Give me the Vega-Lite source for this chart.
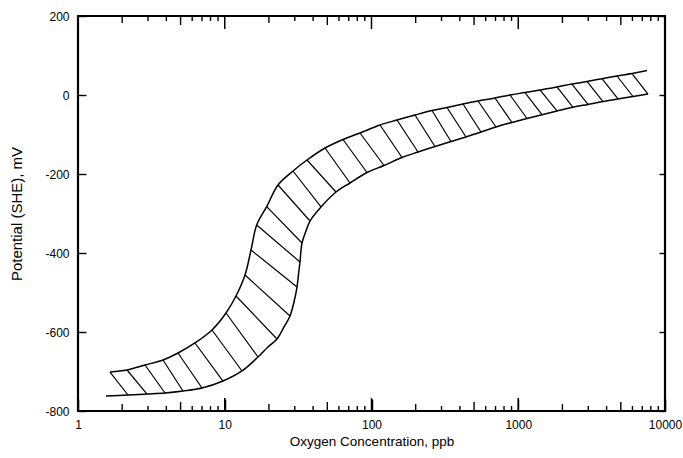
{
  "$schema": "https://vega.github.io/schema/vega-lite/v6.json",
  "autosize": {"type": "none"},
  "width": 587,
  "height": 395,
  "padding": {"left": 78, "top": 16, "right": 18, "bottom": 47},
  "background": "white",
  "config": {
    "view": {"stroke": "black", "strokeWidth": 2.2},
    "font": "Liberation Sans",
    "axis": {"domain": false, "grid": false, "tickColor": "black", "tickWidth": 1.4, "labelColor": "black", "titleColor": "black", "labelFont": "Liberation Sans", "titleFont": "Liberation Sans", "labelFontSize": 12, "titleFontSize": 13.5, "titleFontWeight": "normal"}
  },
  "datasets": {
    "xtick": [
      {"c": 1}, {"c": 2}, {"c": 3}, {"c": 4}, {"c": 5}, {"c": 6}, {"c": 7}, {"c": 8}, {"c": 9},
      {"c": 10}, {"c": 20}, {"c": 30}, {"c": 40}, {"c": 50}, {"c": 60}, {"c": 70}, {"c": 80}, {"c": 90},
      {"c": 100}, {"c": 200}, {"c": 300}, {"c": 400}, {"c": 500}, {"c": 600}, {"c": 700}, {"c": 800}, {"c": 900},
      {"c": 1000}, {"c": 2000}, {"c": 3000}, {"c": 4000}, {"c": 5000}, {"c": 6000}, {"c": 7000}, {"c": 8000}, {"c": 9000},
      {"c": 10000}
    ],
    "upper": [
      {"c": 1.652, "v": -701.3}, {"c": 2.158, "v": -696.2}, {"c": 2.861, "v": -683.5}, {"c": 3.795, "v": -670.9},
      {"c": 4.802, "v": -653.2}, {"c": 6.270, "v": -627.8}, {"c": 8.187, "v": -594.9}, {"c": 10.20, "v": -551.9},
      {"c": 11.93, "v": -508.9}, {"c": 13.74, "v": -455.7}, {"c": 15.10, "v": -392.4}, {"c": 16.51, "v": -329.1},
      {"c": 19.31, "v": -282.8}, {"c": 23.06, "v": -227.8}, {"c": 29.18, "v": -192.4}, {"c": 36.35, "v": -164.6},
      {"c": 48.22, "v": -134.2}, {"c": 63.94, "v": -112.7}, {"c": 83.49, "v": -96.2}, {"c": 114.3, "v": -75.9},
      {"c": 149.2, "v": -63.3}, {"c": 197.9, "v": -50.6}, {"c": 258.4, "v": -39.2}, {"c": 326.9, "v": -31.6},
      {"c": 420.3, "v": -22.8}, {"c": 531.8, "v": -15.2}, {"c": 694.2, "v": -7.6}, {"c": 878.7, "v": 0},
      {"c": 1111.7, "v": 6.3}, {"c": 1406.6, "v": 12.7}, {"c": 1836.6, "v": 20.3}, {"c": 2324, "v": 27.8},
      {"c": 2941, "v": 34.2}, {"c": 3721, "v": 41.3}, {"c": 4709, "v": 48.1}, {"c": 5959, "v": 54.4},
      {"c": 7541, "v": 62.0}
    ],
    "lower": [
      {"c": 1.552, "v": -762.0}, {"c": 2.192, "v": -759.5}, {"c": 2.953, "v": -757.0}, {"c": 3.916, "v": -754.4},
      {"c": 5.194, "v": -749.4}, {"c": 6.998, "v": -741.8}, {"c": 9.729, "v": -724.1}, {"c": 13.11, "v": -698.7},
      {"c": 16.85, "v": -663.3}, {"c": 19.71, "v": -638.0}, {"c": 22.70, "v": -617.7}, {"c": 25.34, "v": -587.3},
      {"c": 27.84, "v": -559.5}, {"c": 29.64, "v": -524.0}, {"c": 31.07, "v": -486.1}, {"c": 32.06, "v": -443.0},
      {"c": 32.57, "v": -422.8}, {"c": 33.61, "v": -374.7}, {"c": 35.78, "v": -344.3}, {"c": 38.10, "v": -319.0},
      {"c": 45.28, "v": -283.5}, {"c": 57.30, "v": -245.6}, {"c": 71.38, "v": -222.8}, {"c": 93.17, "v": -196.2},
      {"c": 121.7, "v": -178.5}, {"c": 161.4, "v": -158.2}, {"c": 207.5, "v": -144.3}, {"c": 270.8, "v": -130.4},
      {"c": 348.1, "v": -117.7}, {"c": 440.6, "v": -106.3}, {"c": 557.4, "v": -93.7}, {"c": 705.2, "v": -81.0},
      {"c": 906.7, "v": -69.6}, {"c": 1147, "v": -59.5}, {"c": 1451.5, "v": -49.9}, {"c": 1836.6, "v": -40.5},
      {"c": 2360.8, "v": -31.1}, {"c": 2987, "v": -23.8}, {"c": 3780, "v": -16.5}, {"c": 4783, "v": -10.1},
      {"c": 6053, "v": -3.8}, {"c": 7660, "v": 2.5}
    ],
    "hatch": [
      {"c1": 1.652, "v1": -701.3, "c2": 2.192, "v2": -759.5},
      {"c1": 2.158, "v1": -696.2, "c2": 2.953, "v2": -757.0},
      {"c1": 2.861, "v1": -683.5, "c2": 3.916, "v2": -754.4},
      {"c1": 3.795, "v1": -670.9, "c2": 5.194, "v2": -749.4},
      {"c1": 4.802, "v1": -653.2, "c2": 6.998, "v2": -741.8},
      {"c1": 6.270, "v1": -627.8, "c2": 9.729, "v2": -724.1},
      {"c1": 8.187, "v1": -594.9, "c2": 13.11, "v2": -698.7},
      {"c1": 10.20, "v1": -551.9, "c2": 16.85, "v2": -663.3},
      {"c1": 11.93, "v1": -508.9, "c2": 22.70, "v2": -617.7},
      {"c1": 13.74, "v1": -455.7, "c2": 27.84, "v2": -559.5},
      {"c1": 15.10, "v1": -392.4, "c2": 31.07, "v2": -486.1},
      {"c1": 16.51, "v1": -329.1, "c2": 32.57, "v2": -422.8},
      {"c1": 19.31, "v1": -282.8, "c2": 33.61, "v2": -374.7},
      {"c1": 23.06, "v1": -227.8, "c2": 38.10, "v2": -319.0},
      {"c1": 29.18, "v1": -192.4, "c2": 45.28, "v2": -283.5},
      {"c1": 36.35, "v1": -164.6, "c2": 57.30, "v2": -245.6},
      {"c1": 48.22, "v1": -134.2, "c2": 71.38, "v2": -222.8},
      {"c1": 63.94, "v1": -112.7, "c2": 93.17, "v2": -196.2},
      {"c1": 83.49, "v1": -96.2, "c2": 121.7, "v2": -178.5},
      {"c1": 114.3, "v1": -75.9, "c2": 161.4, "v2": -158.2},
      {"c1": 149.2, "v1": -63.3, "c2": 207.5, "v2": -144.3},
      {"c1": 197.9, "v1": -50.6, "c2": 270.8, "v2": -130.4},
      {"c1": 258.4, "v1": -39.2, "c2": 348.1, "v2": -117.7},
      {"c1": 326.9, "v1": -31.6, "c2": 440.6, "v2": -106.3},
      {"c1": 420.3, "v1": -22.8, "c2": 557.4, "v2": -93.7},
      {"c1": 531.8, "v1": -15.2, "c2": 705.2, "v2": -81.0},
      {"c1": 694.2, "v1": -7.6, "c2": 906.7, "v2": -69.6},
      {"c1": 878.7, "v1": 0, "c2": 1147, "v2": -59.5},
      {"c1": 1111.7, "v1": 6.3, "c2": 1451.5, "v2": -49.9},
      {"c1": 1406.6, "v1": 12.7, "c2": 1836.6, "v2": -40.5},
      {"c1": 1836.6, "v1": 20.3, "c2": 2360.8, "v2": -31.1},
      {"c1": 2324, "v1": 27.8, "c2": 2987, "v2": -23.8},
      {"c1": 2941, "v1": 34.2, "c2": 3780, "v2": -16.5},
      {"c1": 3721, "v1": 41.3, "c2": 4783, "v2": -10.1},
      {"c1": 4709, "v1": 48.1, "c2": 6053, "v2": -3.8},
      {"c1": 5959, "v1": 54.4, "c2": 7660, "v2": 2.5}
    ]
  },
  "layer": [
    {
      "data": {"name": "upper"},
      "mark": {"type": "line", "color": "black", "strokeWidth": 1.5, "interpolate": "catmull-rom"},
      "encoding": {
        "x": {"field": "c", "type": "quantitative",
          "scale": {"type": "log", "domain": [1, 10000], "nice": false},
          "axis": {"orient": "bottom", "title": "Oxygen Concentration, ppb", "titlePadding": 4,
            "values": [1, 10, 100, 1000, 10000], "labelExpr": "'' + datum.value",
            "labelOverlap": false, "labelFlush": false, "tickSize": -12, "tickWidth": 1.5, "labelPadding": 20}},
        "y": {"field": "v", "type": "quantitative",
          "scale": {"domain": [-800, 200], "nice": false},
          "axis": {"orient": "left", "title": "Potential (SHE), mV", "titlePadding": 20, "titleFontSize": 15,
            "values": [-800, -600, -400, -200, 0, 200], "labelExpr": "'' + datum.value",
            "tickSize": -8, "labelPadding": 17}}
      }
    },
    {
      "data": {"name": "lower"},
      "mark": {"type": "line", "color": "black", "strokeWidth": 1.5, "interpolate": "catmull-rom"},
      "encoding": {
        "x": {"field": "c", "type": "quantitative", "axis": null},
        "y": {"field": "v", "type": "quantitative",
          "axis": {"orient": "right", "title": null, "labels": false,
            "values": [-800, -600, -400, -200, 0, 200], "tickSize": -6}}
      }
    },
    {
      "data": {"name": "hatch"},
      "mark": {"type": "rule", "color": "black", "strokeWidth": 1.2},
      "encoding": {
        "x": {"field": "c1", "type": "quantitative", "axis": null},
        "x2": {"field": "c2"},
        "y": {"field": "v1", "type": "quantitative", "axis": null},
        "y2": {"field": "v2"}
      }
    },
    {
      "data": {"name": "xtick"},
      "transform": [{"filter": "indexof([1, 10, 100, 1000, 10000], datum.c) >= 0"}],
      "mark": {"type": "rule", "color": "black", "strokeWidth": 1.5, "y2Offset": -13},
      "encoding": {
        "x": {"field": "c", "type": "quantitative", "axis": null},
        "y": {"datum": -800, "type": "quantitative", "axis": null},
        "y2": {"datum": -800}
      }
    },
    {
      "data": {"name": "xtick"},
      "transform": [{"filter": "indexof([5, 50, 500, 5000], datum.c) >= 0"}],
      "mark": {"type": "rule", "color": "black", "strokeWidth": 1.4, "y2Offset": -9},
      "encoding": {
        "x": {"field": "c", "type": "quantitative", "axis": null},
        "y": {"datum": -800, "type": "quantitative", "axis": null},
        "y2": {"datum": -800}
      }
    },
    {
      "data": {"name": "xtick"},
      "transform": [{"filter": "indexof([2, 20, 200, 2000], datum.c) >= 0"}],
      "mark": {"type": "rule", "color": "black", "strokeWidth": 1.4, "y2Offset": -7},
      "encoding": {
        "x": {"field": "c", "type": "quantitative", "axis": null},
        "y": {"datum": -800, "type": "quantitative", "axis": null},
        "y2": {"datum": -800}
      }
    },
    {
      "data": {"name": "xtick"},
      "transform": [{"filter": "indexof([1, 2, 5, 10, 20, 50, 100, 200, 500, 1000, 2000, 5000, 10000], datum.c) < 0"}],
      "mark": {"type": "rule", "color": "black", "strokeWidth": 1.4, "y2Offset": -5},
      "encoding": {
        "x": {"field": "c", "type": "quantitative", "axis": null},
        "y": {"datum": -800, "type": "quantitative", "axis": null},
        "y2": {"datum": -800}
      }
    },
    {
      "data": {"name": "xtick"},
      "transform": [{"filter": "indexof([1, 10, 100, 1000, 10000], datum.c) >= 0"}],
      "mark": {"type": "rule", "color": "black", "strokeWidth": 1.5, "y2Offset": 13},
      "encoding": {
        "x": {"field": "c", "type": "quantitative", "axis": null},
        "y": {"datum": 200, "type": "quantitative", "axis": null},
        "y2": {"datum": 200}
      }
    },
    {
      "data": {"name": "xtick"},
      "transform": [{"filter": "indexof([5, 50, 500, 5000], datum.c) >= 0"}],
      "mark": {"type": "rule", "color": "black", "strokeWidth": 1.4, "y2Offset": 9},
      "encoding": {
        "x": {"field": "c", "type": "quantitative", "axis": null},
        "y": {"datum": 200, "type": "quantitative", "axis": null},
        "y2": {"datum": 200}
      }
    },
    {
      "data": {"name": "xtick"},
      "transform": [{"filter": "indexof([2, 20, 200, 2000], datum.c) >= 0"}],
      "mark": {"type": "rule", "color": "black", "strokeWidth": 1.4, "y2Offset": 7},
      "encoding": {
        "x": {"field": "c", "type": "quantitative", "axis": null},
        "y": {"datum": 200, "type": "quantitative", "axis": null},
        "y2": {"datum": 200}
      }
    },
    {
      "data": {"name": "xtick"},
      "transform": [{"filter": "indexof([1, 2, 5, 10, 20, 50, 100, 200, 500, 1000, 2000, 5000, 10000], datum.c) < 0"}],
      "mark": {"type": "rule", "color": "black", "strokeWidth": 1.4, "y2Offset": 5},
      "encoding": {
        "x": {"field": "c", "type": "quantitative", "axis": null},
        "y": {"datum": 200, "type": "quantitative", "axis": null},
        "y2": {"datum": 200}
      }
    }
  ],
  "resolve": {"axis": {"x": "independent", "y": "independent"}}
}
